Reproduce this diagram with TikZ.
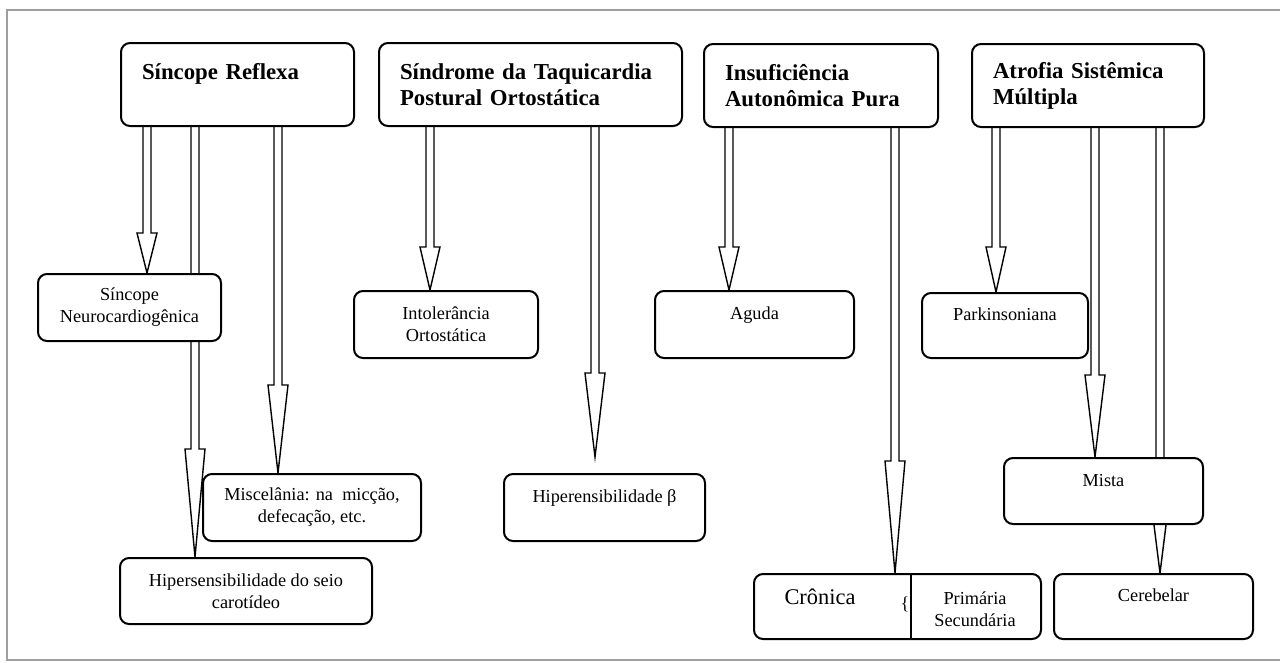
\documentclass[tikz,border=0pt]{standalone}
\usepackage{fontspec}
\setmainfont{Liberation Serif}
\usetikzlibrary{calc,backgrounds,positioning}

\begin{document}
\begin{tikzpicture}[x=1pt,y=-1pt,
    caixa/.style={draw, line width=2pt, rounded corners=9pt, fill=white, inner sep=0pt},
    topo/.style={caixa, font=\fontsize{22.8}{26}\selectfont\bfseries, align=left,
      anchor=north west, minimum height=83pt, inner xsep=21pt},
    sub/.style={caixa, font=\fontsize{18.3}{22}\selectfont, align=center,
      anchor=north west, minimum height=67pt},
    seta/.style={draw, line width=1.4pt, to path={
      let \p1=(\tikztostart), \p2=(\tikztotarget) in
      (\x1-4pt,\y1) -- (\x1-4pt,\y2+#1pt) -- (\x1-10pt,\y2+#1pt) -- (\x1,\y2)
      -- (\x1+10pt,\y2+#1pt) -- (\x1+4pt,\y2+#1pt) -- (\x1+4pt,\y1)}},
  ]
  \useasboundingbox (0,0) rectangle (1280,662);
  \draw[gray!75, line width=2pt] (1282,10) -- (7,10) -- (7,660) -- (1282,660);

  % top row
  \node[topo, text width=191pt] (srefl) at (120,42) {Síncope Reflexa\\\mbox{}};
  \node[topo, text width=261pt] (sindr) at (378,42) {Síndrome da Taquicardia\\Postural Ortostática};
  \node[topo, text width=192pt] (insuf) at (703,43) {Insuficiência\\Autonômica Pura};
  \node[topo, text width=190pt] (atrof) at (971,43) {Atrofia Sistêmica\\Múltipla};

  % sub types
  \node[sub, minimum width=183pt] (neuro) at (37,273) {Síncope\\Neurocardiogênica};
  \node[sub, minimum width=218pt] (misc) at (202,473) {Miscelânia: na\ \ micção,\\defecação, etc.};
  \node[sub, minimum width=252pt, minimum height=66pt] (hipseio) at (119,557) {Hipersensibilidade do seio\\carotídeo};
  \node[sub, minimum width=184pt] (intol) at (353,290) {Intolerância\\Ortostática};
  \node[sub, minimum width=201pt] (hbeta) at (503,473) {Hiperensibilidade β\\\mbox{}};
  \node[sub, minimum width=199pt] (aguda) at (654,290) {Aguda\\\mbox{}};
  \node[sub, minimum width=287pt, minimum height=65pt] (cronica) at (753,573) {};
  \node[font=\fontsize{22.4}{26}\selectfont] (cron) at (820,597) {Crônica};
  \node[font=\fontsize{18.3}{22}\selectfont] (chave) at (905,604) {\{};
  \node[font=\fontsize{18.3}{22}\selectfont, align=center] (prim) at (975,609) {Primária\\Secundária};
  \draw[line width=2pt] (cronica.north west) ++(158,0) coordinate (div) -- (div |- cronica.south);
  \node[sub, minimum width=166pt, minimum height=65pt] (parkin) at (921,292) {Parkinsoniana\\\mbox{}};
  \node[sub, minimum width=199pt, minimum height=66pt] (mista) at (1003,457) {Mista\\\mbox{}};
  \node[sub, minimum width=199pt, minimum height=65pt] (cereb) at (1053,573) {Cerebelar\\\mbox{}};
  \coordinate (pontab) at (595,457);

  % arrows
  \begin{scope}[on background layer]
    \draw[seta=40] ([xshift=27pt]srefl.south west) coordinate (s1) to (s1 |- neuro.north);
    \draw[seta=108] ([xshift=75pt]srefl.south west) coordinate (s2) to (s2 |- hipseio.north);
    \draw[seta=88] ([xshift=158pt]srefl.south west) coordinate (s3) to (s3 |- misc.north);
    \draw[seta=43] ([xshift=52pt]sindr.south west) coordinate (s4) to (s4 |- intol.north);
    \draw[seta=84] ([xshift=217pt]sindr.south west) coordinate (s5) to (s5 |- pontab);
    \draw[seta=43] ([xshift=26pt]insuf.south west) coordinate (s6) to (s6 |- aguda.north);
    \draw[seta=112] ([xshift=192pt]insuf.south west) coordinate (s7) to (s7 |- cronica.north);
    \draw[seta=45] ([xshift=25pt]atrof.south west) coordinate (s8) to (s8 |- parkin.north);
    \draw[seta=82] ([xshift=124pt]atrof.south west) coordinate (s9) to (s9 |- mista.north);
    \draw[seta=80] ([xshift=189pt]atrof.south west) coordinate (s10) to (s10 |- cereb.north);
  \end{scope}
\end{tikzpicture}
\end{document}
